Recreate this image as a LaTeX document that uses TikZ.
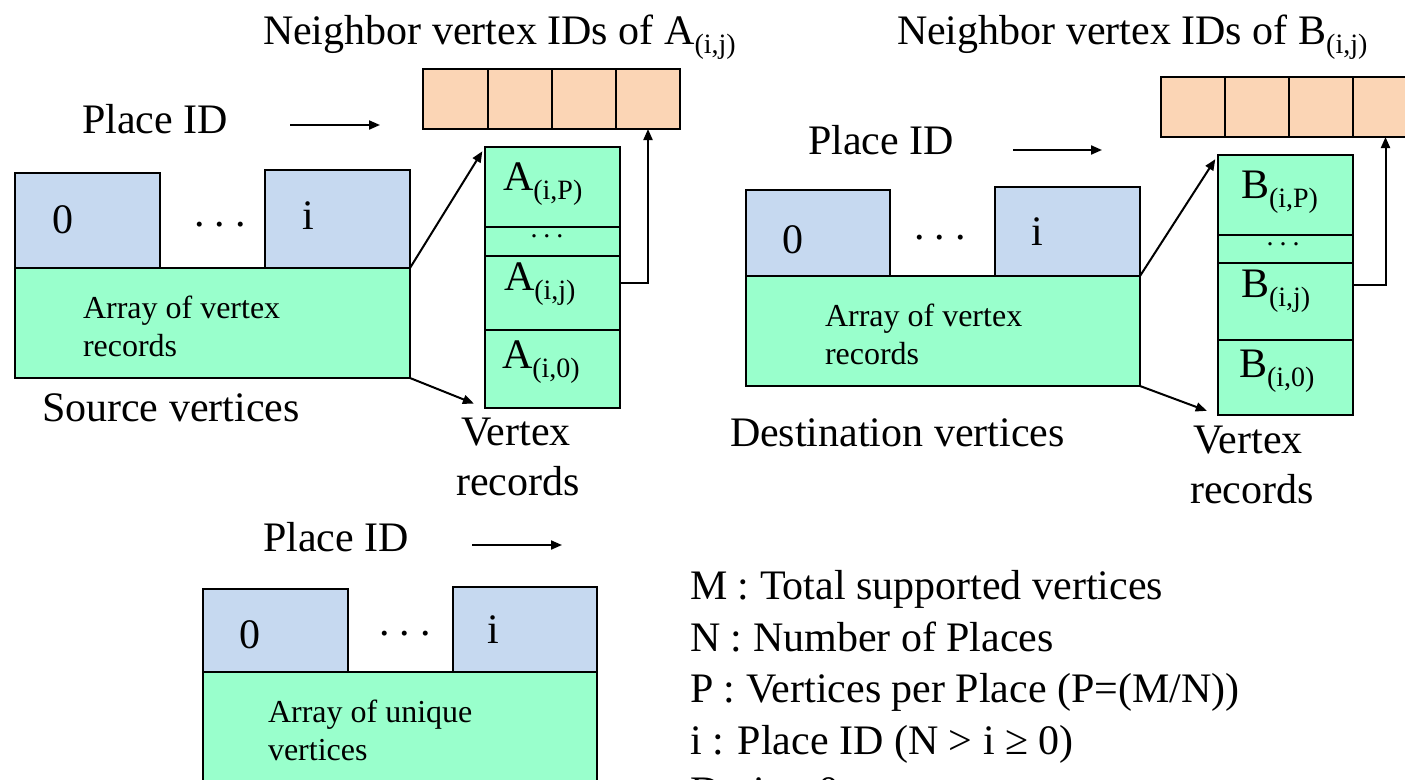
\documentclass[tikz,border=0pt]{standalone}
\usepackage{fontspec}
\setmainfont{Liberation Serif}
\usetikzlibrary{arrows.meta}
\definecolor{blueF}{RGB}{198,217,240}
\definecolor{greenF}{RGB}{153,255,204}
\definecolor{orangeF}{RGB}{251,213,181}
\newcommand\rbox[6]{\node[#6, minimum width={(#4)-(#2)}, minimum height={(#5)-(#3)}] (#1) at ({((#2)+(#4))/2},{((#3)+(#5))/2}) {};}
\newcommand\sub[1]{\raisebox{-9pt}{\fontsize{28}{30}\selectfont #1}}
\tikzset{
  shape base/.style={draw=black, line width=2.5pt, inner sep=0pt, outer sep=0pt, rectangle},
  bluebox/.style={shape base, fill=blueF},
  greenbox/.style={shape base, fill=greenF},
  orangebox/.style={shape base, fill=orangeF},
  big/.style={font=\fontsize{42}{50}\selectfont, inner sep=0pt, outer sep=0pt},
  small/.style={font=\fontsize{32}{38}\selectfont, inner sep=0pt, outer sep=0pt},
  dotsf/.style={font=\fontsize{28}{30}\selectfont, inner sep=0pt},
  arr/.style={draw=black, line width=2pt, -{Triangle[length=11pt,width=9pt]}},
}
\begin{document}
\begin{tikzpicture}[x=1pt,y=-1pt]
\clip (0,0) rectangle (1405,779);
\fill[white] (0,0) rectangle (1405,779);

% ===== Left group (source) =====
\node[big, anchor=base west] (nA) at (263,44) {Neighbor vertex IDs of A\sub{(i,j)}};
\rbox{oA1}{423}{69}{488}{129}{orangebox}
\rbox{oA2}{488}{69}{552}{129}{orangebox}
\rbox{oA3}{552}{69}{616}{129}{orangebox}
\rbox{oA4}{616}{69}{680}{129}{orangebox}
\node[big, anchor=base west] (pA) at (82,133) {Place ID};
\coordinate (pA1) at (290,125);
\coordinate (pA2) at (380,125);
\draw[arr] (pA1) -- (pA2);

\rbox{bA0}{15}{173}{160}{268}{bluebox}
\rbox{bAi}{265}{170}{410}{268}{bluebox}
\rbox{gA}{15}{268}{410}{378}{greenbox}
\node[big] (tA0) at (63,220) {0};
\node[big] (tAi) at (308,216) {i};
\node[big] (tAd) at (220,225) {.\hspace{10pt}.\hspace{10pt}.};
\node[small, anchor=base west] (gAt1) at (83,318) {Array of vertex};
\node[small, anchor=base west] (gAt2) at (83,356) {records};
\node[big, anchor=base west] (srcA) at (42,421) {Source vertices};

\rbox{vAP}{485}{147}{620}{227}{greenbox}
\rbox{vAd}{485}{227}{620}{256}{greenbox}
\rbox{vAj}{485}{256}{620}{330}{greenbox}
\rbox{vA0}{485}{330}{620}{408}{greenbox}
\node[big, anchor=base west] (tAP) at (503,190) {A\sub{(i,P)}};
\node[dotsf] (tAdd) at (547,236) {.\hspace{6pt}.\hspace{6pt}.};
\node[big, anchor=base west] (tAj) at (504,290) {A\sub{(i,j)}};
\node[big, anchor=base west] (tA00) at (502,368) {A\sub{(i,0)}};
\node[big, anchor=base] (vrA1) at (516,445) {Vertex};
\node[big, anchor=base] (vrA2) at (518,495) {records};

\draw[arr, shorten >=5pt] (gA.north east) -- (vAP.north west);
\draw[arr, shorten >=12pt] (gA.south east) -- (vA0.south west);
\draw[arr] ([yshift=10pt]vAj.east) -| (oA4.south);

% ===== Right group (destination) =====
\node[big, anchor=base west] (nB) at (897,44) {Neighbor vertex IDs of B\sub{(i,j)}};
\rbox{oB1}{1161}{77}{1225}{137}{orangebox}
\rbox{oB2}{1225}{77}{1289}{137}{orangebox}
\rbox{oB3}{1289}{77}{1353}{137}{orangebox}
\rbox{oB4}{1353}{77}{1418}{137}{orangebox}
\node[big, anchor=base west] (pB) at (808,154) {Place ID};
\coordinate (pB1) at (1013,150);
\coordinate (pB2) at (1102,150);
\draw[arr] (pB1) -- (pB2);

\rbox{bB0}{746}{190}{890}{276}{bluebox}
\rbox{bBi}{995}{187}{1140}{276}{bluebox}
\rbox{gB}{746}{276}{1140}{386}{greenbox}
\node[big] (tB0) at (793,240) {0};
\node[big] (tBi) at (1037,232) {i};
\node[big] (tBd) at (940,238) {.\hspace{10pt}.\hspace{10pt}.};
\node[small, anchor=base west] (gBt1) at (825,326) {Array of vertex};
\node[small, anchor=base west] (gBt2) at (825,364) {records};
\node[big, anchor=base west] (dstB) at (730,446) {Destination vertices};

\rbox{vBP}{1218}{155}{1353}{235}{greenbox}
\rbox{vBd}{1218}{235}{1353}{263}{greenbox}
\rbox{vBj}{1218}{263}{1353}{340}{greenbox}
\rbox{vB0}{1218}{340}{1353}{415}{greenbox}
\node[big, anchor=base west] (tBP) at (1241,198) {B\sub{(i,P)}};
\node[dotsf] (tBdd) at (1283,244) {.\hspace{6pt}.\hspace{6pt}.};
\node[big, anchor=base west] (tBj) at (1241,297) {B\sub{(i,j)}};
\node[big, anchor=base west] (tB00) at (1239,377) {B\sub{(i,0)}};
\node[big, anchor=base] (vrB1) at (1248,453) {Vertex};
\node[big, anchor=base] (vrB2) at (1252,503) {records};

\draw[arr, shorten >=5pt] (gB.north east) -- (vBP.north west);
\draw[arr, shorten >=12pt] (gB.south east) -- (vB0.south west);
\draw[arr] ([yshift=17pt]vBj.east) -| (oB4.south);

% ===== Bottom group (unique) =====
\node[big, anchor=base west] (pC) at (263,551) {Place ID};
\coordinate (pC1) at (472,545);
\coordinate (pC2) at (562,545);
\draw[arr] (pC1) -- (pC2);
\rbox{bC0}{203}{589}{348}{672}{bluebox}
\rbox{bCi}{453}{587}{597}{672}{bluebox}
\rbox{gC}{203}{672}{597}{800}{greenbox}
\node[big] (tC0) at (250,635) {0};
\node[big] (tCi) at (493,630) {i};
\node[big] (tCd) at (405,634) {.\hspace{10pt}.\hspace{10pt}.};
\node[small, anchor=base west] (gCt1) at (268,722) {Array of unique};
\node[small, anchor=base west] (gCt2) at (268,760) {vertices};

% ===== Legend =====
\node[big, anchor=base west] (L1) at (690,599) {M : Total supported vertices};
\node[big, anchor=base west] (L2) at (690,651) {N : Number of Places};
\node[big, anchor=base west] (L3) at (690,702) {P : Vertices per Place (P=(M/N))};
\node[big, anchor=base west] (L4) at (690,754) {i : Place ID (N > i ≥ 0)};
\node[big, anchor=base west] (L5) at (690,805) {D : i to 0};
\end{tikzpicture}
\end{document}
